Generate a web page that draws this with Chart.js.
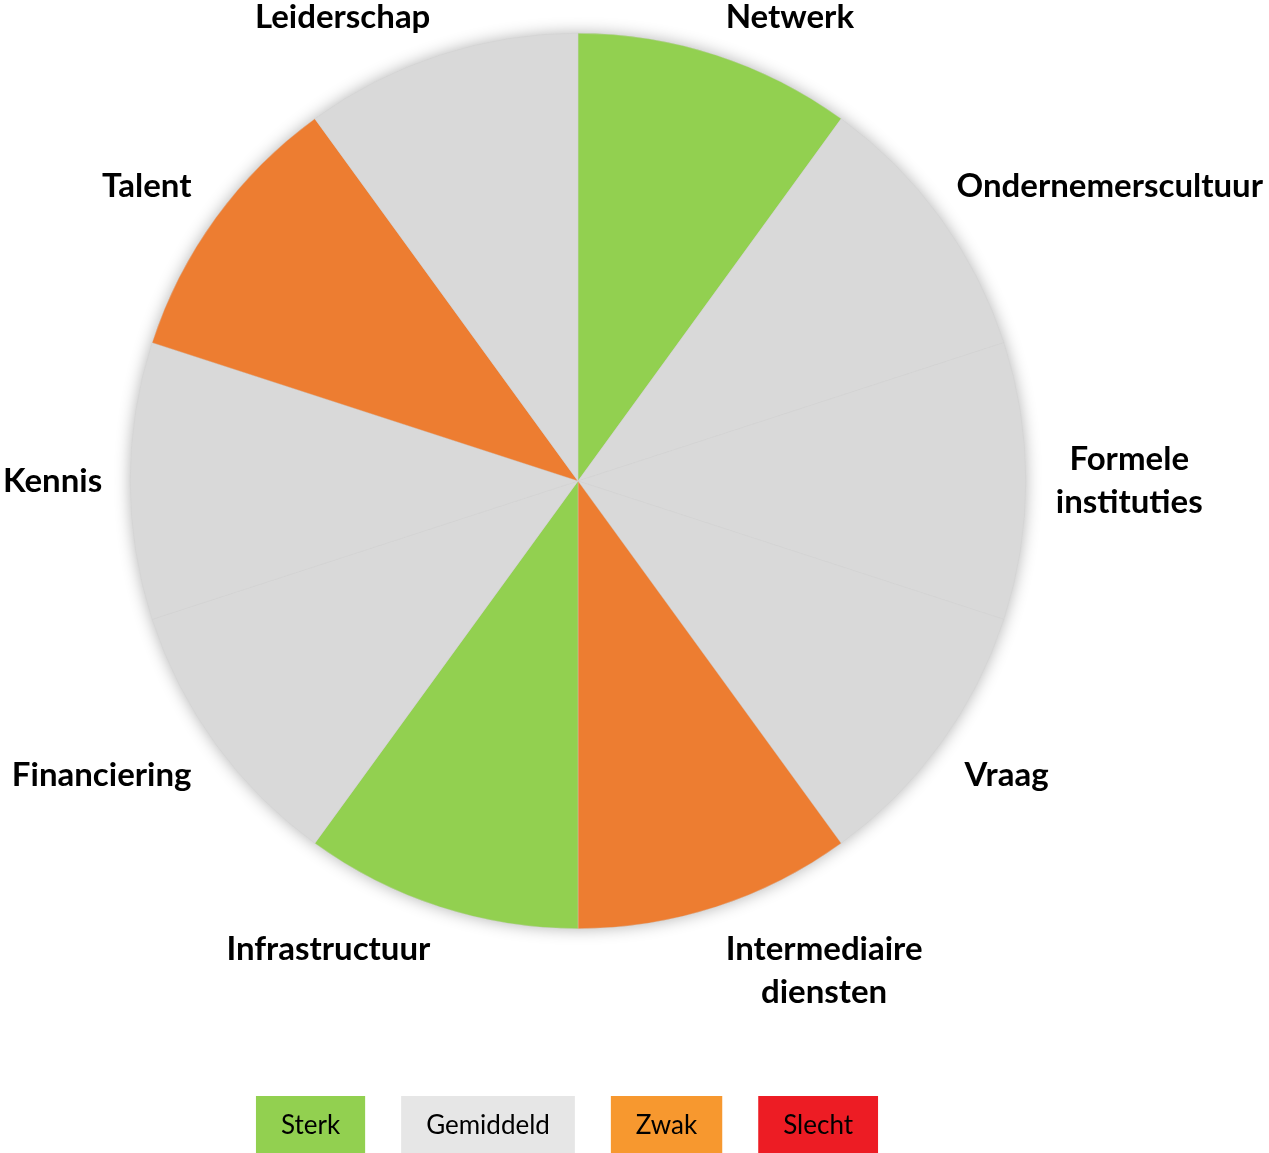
<!DOCTYPE html>
<html>
<head>
<meta charset="utf-8">
<script src="https://cdn.jsdelivr.net/npm/chart.js@4/dist/chart.umd.min.js"></script>
<style>
  html, body { margin: 0; padding: 0; background: #fff; }
  #wrap { width: 1269px; height: 1153px; }
</style>
</head>
<body>
<div id="wrap"><canvas id="pieChart" width="1269" height="1153"></canvas></div>
<script>
// Categorieën, van boven met de klok mee
const categories = ['Netwerk', 'Ondernemerscultuur', ['Formele', 'instituties'], 'Vraag',
  ['Intermediaire', 'diensten'], 'Infrastructuur', 'Financiering', 'Kennis', 'Talent', 'Leiderschap'];
// Score per categorie
const scores = ['Sterk', 'Gemiddeld', 'Gemiddeld', 'Gemiddeld', 'Zwak',
  'Sterk', 'Gemiddeld', 'Gemiddeld', 'Zwak', 'Gemiddeld'];
// Alle taartpunten even groot
const sliceValues = [1, 1, 1, 1, 1, 1, 1, 1, 1, 1];
// Legenda
const legendLabels = ['Sterk', 'Gemiddeld', 'Zwak', 'Slecht'];
const legendColors = ['#92D050', '#E6E6E6', '#F7982F', '#ED1C24'];
const sliceColors = { Sterk: '#92D050', Gemiddeld: '#D9D9D9', Zwak: '#ED7D31', Slecht: '#ED1C24' };

const labelFont = 'bold 33px Lato';
const lineH = 43;

// Schaduw onder de taart
const shadowPlugin = {
  id: 'shadow',
  beforeDatasetsDraw(chart) {
    const arc = chart.getDatasetMeta(0).data[0];
    if (!arc) return;
    const ctx = chart.ctx;
    ctx.save();
    ctx.shadowColor = 'rgba(0,0,0,0.3)';
    ctx.shadowBlur = 16;
    ctx.fillStyle = '#D9D9D9';
    ctx.beginPath();
    ctx.arc(arc.x, arc.y, arc.outerRadius, 0, Math.PI * 2);
    ctx.fill();
    ctx.restore();
  }
};

// Labels buiten de taart
const outsideLabels = {
  id: 'outsideLabels',
  afterDatasetsDraw(chart) {
    const ctx = chart.ctx;
    const meta = chart.getDatasetMeta(0);
    ctx.save();
    ctx.font = labelFont;
    ctx.fillStyle = '#000';
    ctx.textAlign = 'center';
    ctx.textBaseline = 'middle';
    meta.data.forEach((arc, i) => {
      const mid = (arc.startAngle + arc.endAngle) / 2;
      const r = arc.outerRadius + 30;
      const px = arc.x + Math.cos(mid) * r;
      const py = arc.y + Math.sin(mid) * r;
      const lines = [].concat(categories[i]);
      const w = Math.max(...lines.map(l => ctx.measureText(l).width));
      const h = (lines.length - 1) * lineH + 28;
      const cx = Math.cos(mid), sy = Math.sin(mid);
      const sx = Math.abs(cx) < 1e-6 ? 0 : Math.sign(cx);
      const sY = Math.abs(sy) < 1e-6 ? 0 : Math.sign(sy);
      // binnen het canvas houden
      let bx = px + sx * w / 2;
      bx = Math.min(bx, chart.width - 6 - w / 2);
      bx = Math.max(bx, 3 + w / 2);
      const by = Math.max(py + sY * h / 2, 17);
      lines.forEach((l, k) => {
        ctx.fillText(l, bx, by - (lines.length - 1) * lineH / 2 + k * lineH);
      });
    });
    ctx.restore();
  }
};

// Legenda als gekleurde vakjes onderaan
const boxLegend = {
  id: 'boxLegend',
  afterDraw(chart) {
    const ctx = chart.ctx;
    ctx.save();
    ctx.font = '26px Lato';
    ctx.textAlign = 'center';
    ctx.textBaseline = 'middle';
    const pad = 25, gap = 36, top = 1096, bh = 57;
    const widths = legendLabels.map(l => ctx.measureText(l).width + pad * 2);
    const total = widths.reduce((a, b) => a + b, 0) + gap * (widths.length - 1);
    let x = 567 - total / 2;
    legendLabels.forEach((l, i) => {
      ctx.fillStyle = legendColors[i];
      ctx.fillRect(x, top, widths[i], bh);
      ctx.fillStyle = '#000';
      ctx.fillText(l, x + widths[i] / 2, top + bh / 2 + 1);
      x += widths[i] + gap;
    });
    ctx.restore();
  }
};

new Chart(document.getElementById('pieChart'), {
  type: 'pie',
  data: {
    labels: categories.map(c => [].concat(c).join(' ')),
    datasets: [{
      data: sliceValues,
      backgroundColor: scores.map(s => sliceColors[s]),
      borderColor: 'rgba(205,205,205,0.7)',
      borderWidth: 0.5
    }]
  },
  options: {
    responsive: false,
    animation: false,
    layout: { padding: { left: 130, right: 243, top: 33, bottom: 224 } },
    plugins: {
      legend: { display: false },
      tooltip: { enabled: false }
    }
  },
  plugins: [shadowPlugin, outsideLabels, boxLegend]
});
</script>
</body>
</html>
